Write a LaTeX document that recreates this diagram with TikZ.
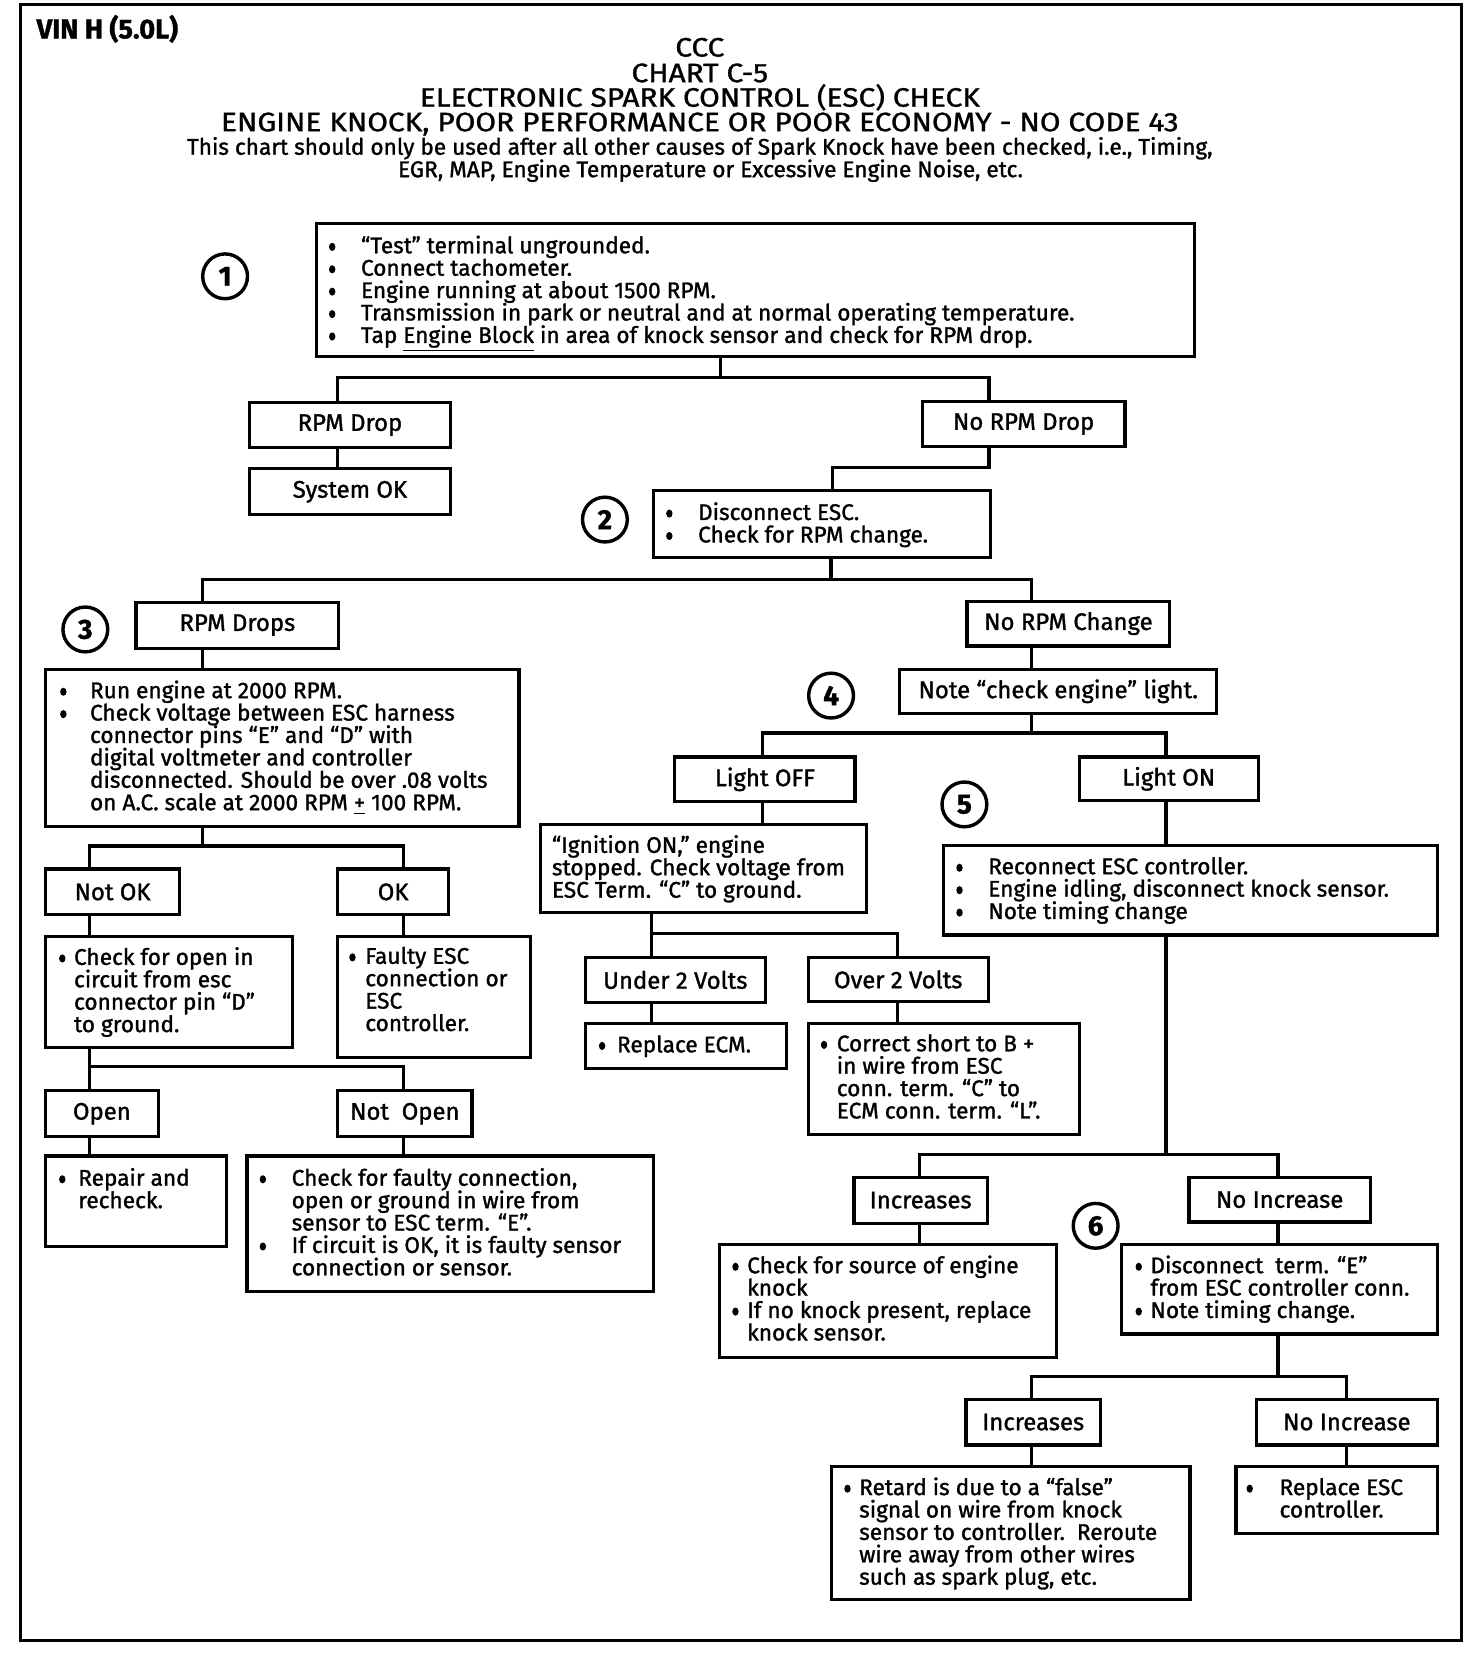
\documentclass[tikz,border=0pt]{standalone}
\usepackage{fontspec}
\setmainfont{Fira Sans}[FakeBold=1.3]
\newfontfamily\ttlfam{Fira Sans}[FakeBold=1.1, FakeStretch=1.12]
\newcommand\bodyfont{\fontsize{10.6}{10.5}\selectfont}
\newcommand\labfont{\fontsize{11.2}{12}\selectfont}
\newcommand\titlefont{\ttlfam\fontsize{12.5}{12}\selectfont}
\newcommand\bu{\tikz[baseline=0pt]\fill (0pt,3pt) ellipse [x radius=1.5pt, y radius=1.9pt];}
\newcommand\VL[1]{\vtop{\baselineskip=10.5pt\lineskiplimit=-30pt\lineskip=0pt\relax #1}}
\newcommand\bi[2]{\hbox{\makebox[#1][l]{\bu}#2}}
\newcommand\ci[2]{\hbox{\hspace{#1}#2}}
\tikzset{
 box/.style={draw, line width=1.5pt, inner sep=0pt, anchor=north west, font=\labfont},
 tx/.style={inner sep=0pt, anchor=base west, font=\bodyfont, yshift=-2.2pt},
 ttl/.style={inner sep=0pt, anchor=base, font=\titlefont},
 conn/.style={line width=1.5pt, line join=miter, line cap=rect},
 num/.style={circle, draw, line width=1.6pt, minimum size=21pt, inner sep=0pt, font=\fontsize{13}{13}\selectfont\bfseries},
}
\newcommand\mkbox[6]{\node[box, minimum width={(#4-#2)*0.5pt}, minimum height={(#5-#3)*0.5pt}] (#1) at (#2,#3) {#6};}
\begin{document}
\begin{tikzpicture}[x=0.5pt,y=-0.5pt]
\useasboundingbox (0,0) rectangle (1380,1571);
\draw[line width=1.5pt] (19,4) rectangle (1370,1538);
% header
\node[inner sep=0pt, anchor=base west, font=\fontsize{12.8}{13}\selectfont\bfseries] (vin) at (34,36) {VIN H (5.0L)};
\node[ttl] (h1) at (656,53) {CCC};
\node[ttl] (h2) at (656,77) {CHART C-5};
\node[ttl] (h3) at (656,100) {ELECTRONIC SPARK CONTROL (ESC) CHECK};
\node[ttl] (h4) at (656,123) {ENGINE KNOCK, POOR PERFORMANCE OR POOR ECONOMY - NO CODE 43};
\node[inner sep=0pt, anchor=base, font=\bodyfont] (h5) at (656,145) {This chart should only be used after all other causes of Spark Knock have been checked, i.e., Timing,};
\node[inner sep=0pt, anchor=base, font=\bodyfont] (h6) at (666,166) {EGR, MAP, Engine Temperature or Excessive Engine Noise, etc.};
% step 1
\node[num] (c1) at (211,259) {1};
\mkbox{b1}{295}{208}{1118}{333}{}
\node[tx] (t1) at (308,233) {\VL{\bi{15pt}{“Test” terminal ungrounded.}
\bi{15pt}{Connect tachometer.}
\bi{15pt}{Engine running at about 1500 RPM.}
\bi{15pt}{Transmission in park or neutral and at normal operating temperature.}
\bi{15pt}{Tap \underline{Engine Block} in area of knock sensor and check for RPM drop.}}};
\mkbox{rpmdrop}{232}{376}{421}{418}{RPM Drop}
\mkbox{sysok}{232}{438}{421}{481}{System OK}
\mkbox{norpm}{863}{375}{1053}{417}{No RPM Drop}
% step 2
\node[num] (c2) at (567,487) {2};
\mkbox{b2}{611}{458}{927}{521}{}
\node[tx] (t2) at (624,483) {\VL{\bi{15pt}{Disconnect ESC.}
\bi{15pt}{Check for RPM change.}}};
\mkbox{rpmdrops}{126}{563}{316}{606}{RPM Drops}
\mkbox{norpmc}{905}{562}{1095}{604}{No RPM Change}
% step 3
\node[num] (c3) at (80,590) {3};
\mkbox{b3}{41}{626}{485}{773}{}
\node[tx] (t3) at (56,650) {\VL{\bi{14pt}{Run engine at 2000 RPM.}
\bi{14pt}{Check voltage between ESC harness}
\ci{14pt}{connector pins “E” and “D” with}
\ci{14pt}{digital voltmeter and controller}
\ci{14pt}{disconnected. Should be over .08 volts}
\ci{14pt}{on A.C. scale at 2000 RPM \underline{+} 100 RPM.}}};
\mkbox{notok}{41}{813}{167}{856}{Not OK}
\mkbox{ok}{315}{813}{419}{856}{OK}
\mkbox{notokc}{41}{876}{273}{980}{}
\node[tx] (t4) at (55,900) {\VL{\bi{7pt}{Check for open in}
\ci{7pt}{circuit from esc}
\ci{7pt}{connector pin “D”}
\ci{7pt}{to ground.}}};
\mkbox{okc}{315}{876}{496}{990}{}
\node[tx] (t5) at (327,899) {\VL{\bi{7.5pt}{Faulty ESC}
\ci{7.5pt}{connection or}
\ci{7.5pt}{ESC}
\ci{7.5pt}{controller.}}};
\mkbox{open}{41}{1021}{147}{1064}{Open}
\mkbox{notopen}{315}{1021}{441}{1064}{Not\ \ Open}
\mkbox{openc}{41}{1082}{211}{1167}{}
\node[tx] (t6) at (55,1107) {\VL{\bi{9pt}{Repair and}
\ci{9pt}{recheck.}}};
\mkbox{notopenc}{230}{1082}{611}{1209}{}
\node[tx] (t7) at (243,1107) {\VL{\bi{15pt}{Check for faulty connection,}
\ci{15pt}{open or ground in wire from}
\ci{15pt}{sensor to ESC term. “E”.}
\bi{15pt}{If circuit is OK, it is faulty sensor}
\ci{15pt}{connection or sensor.}}};
% step 4
\node[num] (c4) at (779,652) {4};
\mkbox{note}{842}{626}{1139}{667}{Note “check engine” light.}
\mkbox{loff}{631}{708}{800}{750}{Light OFF}
\mkbox{lon}{1010}{708}{1178}{749}{Light ON}
\mkbox{loffc}{505}{771}{811}{854}{}
\node[tx] (t8) at (517,795) {\VL{\hbox{“Ignition ON,” engine}
\hbox{stopped. Check voltage from}
\hbox{ESC Term. “C” to ground.}}};
\mkbox{under}{547}{896}{716}{938}{Under 2 Volts}
\mkbox{over}{756}{896}{925}{937}{Over 2 Volts}
\mkbox{ecm}{547}{958}{736}{1000}{}
\node[tx] (t9) at (561,982) {\VL{\bi{8.5pt}{Replace ECM.}}};
\mkbox{overc}{756}{958}{1010}{1062}{}
\node[tx] (t10) at (769,981) {\VL{\bi{7.5pt}{Correct short to B +}
\ci{7.5pt}{in wire from ESC}
\ci{7.5pt}{conn. term. “C” to}
\ci{7.5pt}{ECM conn. term. “L”.}}};
% step 5
\node[num] (c5) at (904,754) {5};
\mkbox{b5}{883}{791}{1346}{875}{}
\node[tx] (t11) at (896,815) {\VL{\bi{15pt}{Reconnect ESC controller.}
\bi{15pt}{Engine idling, disconnect knock sensor.}
\bi{15pt}{Note timing change}}};
\mkbox{inc}{799}{1102}{924}{1145}{Increases}
\mkbox{noinc}{1113}{1102}{1283}{1144}{No Increase}
\mkbox{incc}{673}{1165}{989}{1271}{}
\node[tx] (t12) at (686,1189) {\VL{\bi{7pt}{Check for source of engine}
\ci{7pt}{knock}
\bi{7pt}{If no knock present, replace}
\ci{7pt}{knock sensor.}}};
% step 6
\node[num] (c6) at (1027,1149) {6};
\mkbox{noincc}{1050}{1165}{1346}{1249}{}
\node[tx] (t13) at (1064,1189) {\VL{\bi{7pt}{Disconnect\ \ term. “E”}
\ci{7pt}{from ESC controller conn.}
\bi{7pt}{Note timing change.}}};
\mkbox{inc2}{904}{1310}{1030}{1353}{Increases}
\mkbox{noinc2}{1176}{1310}{1346}{1353}{No Increase}
\mkbox{inc2c}{778}{1373}{1114}{1498}{}
\node[tx] (t14) at (791,1397) {\VL{\bi{7pt}{Retard is due to a “false”}
\ci{7pt}{signal on wire from knock}
\ci{7pt}{sensor to controller.\ \ Reroute}
\ci{7pt}{wire away from other wires}
\ci{7pt}{such as spark plug, etc.}}};
\mkbox{noinc2c}{1157}{1373}{1346}{1436}{}
\node[tx] (t15) at (1168,1397) {\VL{\bi{15.5pt}{Replace ESC}
\ci{15.5pt}{controller.}}};
% connectors
\coordinate (j1) at (675,354); \coordinate (j1l) at (316,354); \coordinate (j1r) at (927,354);
\draw[conn] (b1.south -| j1) -- (j1);
\draw[conn] (rpmdrop.north -| j1l) -- (j1l) -- (j1r) -- (norpm.north -| j1r);
\draw[conn] (rpmdrop.south -| j1l) -- (sysok.north -| j1l);
\coordinate (j2a) at (927,438); \coordinate (j2b) at (780,438);
\draw[conn] (norpm.south -| j2a) -- (j2a) -- (j2b) -- (b2.north -| j2b);
\coordinate (j3) at (779,543); \coordinate (j3l) at (190,543); \coordinate (j3r) at (967,543);
\draw[conn] (b2.south -| j3) -- (j3);
\draw[conn] (rpmdrops.north -| j3l) -- (j3l) -- (j3r) -- (norpmc.north -| j3r);
\draw[conn] (rpmdrops.south -| j3l) -- (b3.north -| j3l);
\draw[conn] (norpmc.south -| j3r) -- (note.north -| j3r);
\coordinate (j4) at (190,793); \coordinate (j4l) at (84,793); \coordinate (j4r) at (378,793);
\draw[conn] (b3.south -| j4) -- (j4);
\draw[conn] (notok.north -| j4l) -- (j4l) -- (j4r) -- (ok.north -| j4r);
\draw[conn] (notok.south -| j4l) -- (notokc.north -| j4l);
\draw[conn] (ok.south -| j4r) -- (okc.north -| j4r);
\coordinate (j5l) at (84,1000); \coordinate (j5r) at (378,1000);
\draw[conn] (open.north -| j5l) -- (notokc.south -| j5l);
\draw[conn] (j5l) -- (j5r) -- (notopen.north -| j5r);
\draw[conn] (open.south -| j5l) -- (openc.north -| j5l);
\draw[conn] (notopen.south -| j5r) -- (notopenc.north -| j5r);
\coordinate (j6) at (967,687); \coordinate (j6l) at (715,687); \coordinate (j6r) at (1093,687);
\draw[conn] (note.south -| j6) -- (j6);
\draw[conn] (loff.north -| j6l) -- (j6l) -- (j6r) -- (lon.north -| j6r);
\draw[conn] (loff.south -| j6l) -- (loffc.north -| j6l);
\draw[conn] (lon.south -| j6r) -- (b5.north -| j6r);
\coordinate (j7l) at (611,875); \coordinate (j7r) at (841,875);
\draw[conn] (under.north -| j7l) -- (loffc.south -| j7l);
\draw[conn] (j7l) -- (j7r) -- (over.north -| j7r);
\draw[conn] (under.south -| j7l) -- (ecm.north -| j7l);
\draw[conn] (over.south -| j7r) -- (overc.north -| j7r);
\coordinate (j8) at (1093,1082); \coordinate (j8l) at (862,1082); \coordinate (j8r) at (1198,1082);
\draw[conn] (b5.south -| j8) -- (j8);
\draw[conn] (inc.north -| j8l) -- (j8l) -- (j8r) -- (noinc.north -| j8r);
\draw[conn] (inc.south -| j8l) -- (incc.north -| j8l);
\draw[conn] (noinc.south -| j8r) -- (noincc.north -| j8r);
\coordinate (j9) at (1198,1290); \coordinate (j9l) at (967,1290); \coordinate (j9r) at (1262,1290);
\draw[conn] (noincc.south -| j9) -- (j9);
\draw[conn] (inc2.north -| j9l) -- (j9l) -- (j9r) -- (noinc2.north -| j9r);
\draw[conn] (inc2.south -| j9l) -- (inc2c.north -| j9l);
\draw[conn] (noinc2.south -| j9r) -- (noinc2c.north -| j9r);
\end{tikzpicture}
\end{document}
